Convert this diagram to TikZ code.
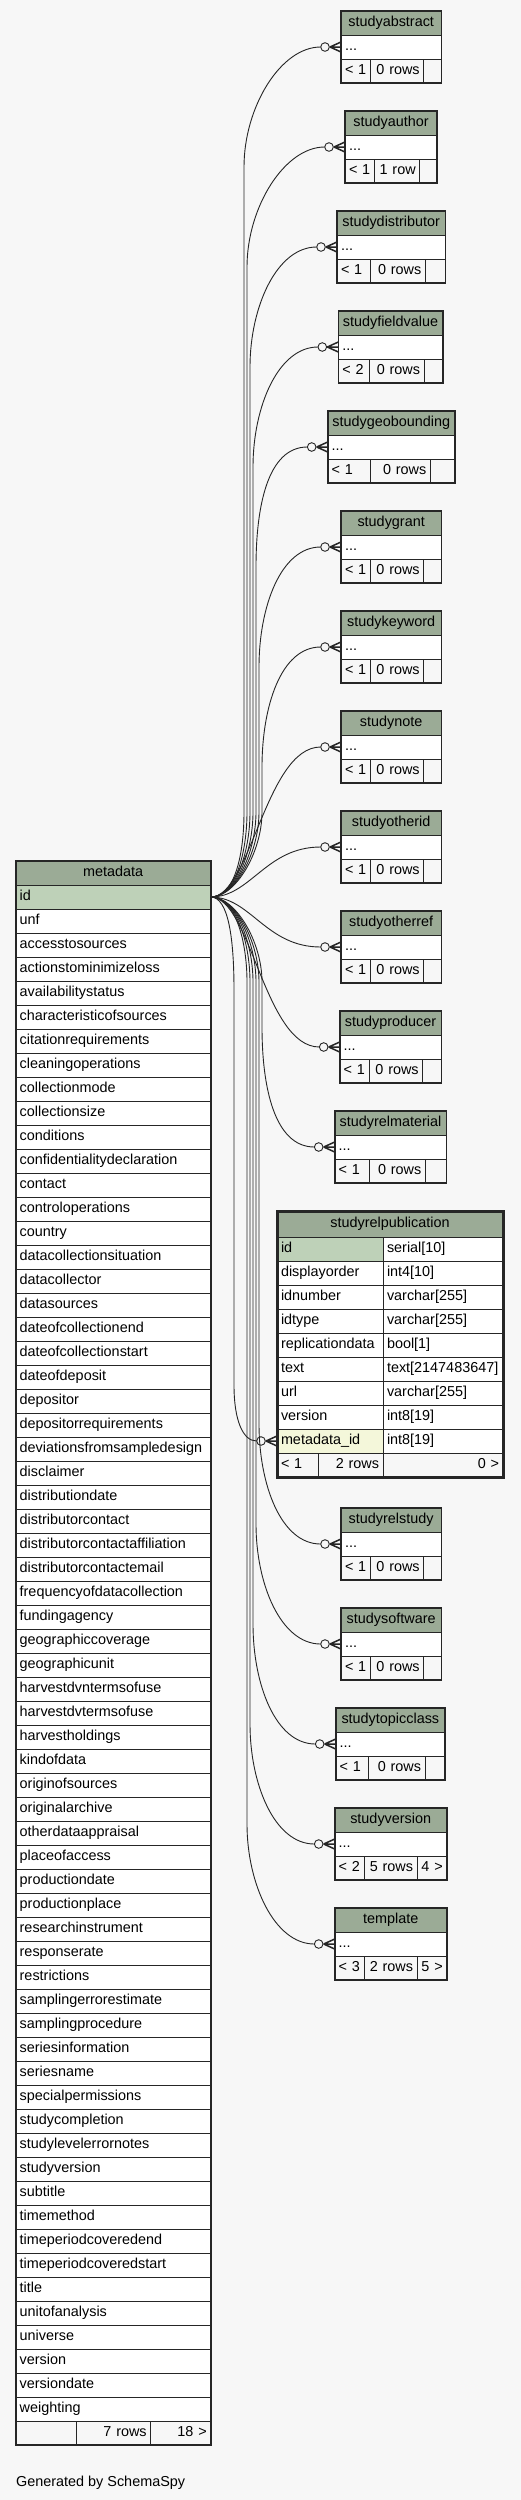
\documentclass[tikz,border=0pt]{standalone}
\usepackage{fontspec}
\setmainfont{Liberation Sans}
\hyphenpenalty=10000
\exhyphenpenalty=10000
\definecolor{pagebg}{HTML}{F7F7F7}
\definecolor{hdr}{HTML}{9BAB96}
\definecolor{keyc}{HTML}{BED1B8}
\definecolor{fkc}{HTML}{F4F7DA}
\definecolor{linec}{HTML}{262626}
\tikzset{
  cellst/.style={draw=linec, line width=1pt, inner xsep=4pt, inner ysep=0pt, outer sep=0pt,
    text height=10.5pt, text depth=3pt, font=\fontsize{14.4}{17}\selectfont, text=black},
  tabframe/.style={draw=linec, line width=1.6pt},
  focusframe/.style={draw=linec, line width=3pt},
  edge/.style={draw=linec, line width=0.9pt},
  crowst/.style={draw=linec, line width=1.5pt},
}
\newcommand{\mycell}[8]{%
  \pgfmathsetmacro\cw{#4-#2}%
  \pgfmathsetmacro\chh{#5-#3}%
  \pgfmathsetmacro\ctw{#4-#2-8}%
  \node[cellst,fill=#6,align=#7,minimum width=\cw pt,minimum height=\chh pt,text width=\ctw pt,anchor=north west] (#1) at (#2,#3) {#8};}
\def\fthr{}
\newcommand{\smalltab}[9]{%
  \pgfmathsetmacro\ya{#5+24}%
  \pgfmathsetmacro\yb{#5+48}%
  \pgfmathsetmacro\yc{#5+72}%
  \mycell{#1-h}{#3}{#5}{#4}{\ya}{hdr}{center}{#2}%
  \mycell{#1}{#3}{\ya}{#4}{\yb}{white}{left}{...}%
  \mycell{#1-fa}{#3}{\yb}{#6}{\yc}{pagebg}{left}{#8}%
  \mycell{#1-fb}{#6}{\yb}{#7}{\yc}{pagebg}{right}{#9}%
  \mycell{#1-fc}{#7}{\yb}{#4}{\yc}{pagebg}{right}{\fthr}%
  \draw[tabframe] (#3,#5) rectangle (#4,\yc);}
\newcommand{\crowo}[1]{%
  \draw[edge,fill=pagebg] ([xshift=-16pt]#1.west) circle[radius=4.3pt];
  \draw[crowst] ([xshift=-11pt]#1.west) -- ([yshift=5pt]#1.west)
    ([xshift=-11pt]#1.west) -- (#1.west)
    ([xshift=-11pt]#1.west) -- ([yshift=-5pt]#1.west);}
\newcommand{\edgeup}[3]{%
  \pgfmathsetmacro\eb{#3+120}%
  \draw[edge] (md-id.east) .. controls +(25,0) and +(0,40) .. (#2,812) -- (#2,\eb)
    .. controls +(0,-60) and +(-40,0) .. ([xshift=-20.3pt]#1.west);
  \crowo{#1}}
\newcommand{\edgedown}[3]{%
  \pgfmathsetmacro\eb{#3-120}%
  \draw[edge] (md-id.east) .. controls +(25,0) and +(0,-40) .. (#2,982) -- (#2,\eb)
    .. controls +(0,60) and +(-40,0) .. ([xshift=-20.3pt]#1.west);
  \crowo{#1}}
\newcommand{\edgenear}[1]{%
  \draw[edge] (md-id.east) .. controls +(40,0) and +(-55,0) .. ([xshift=-20.3pt]#1.west);
  \crowo{#1}}
\begin{document}
\begin{tikzpicture}[x=1pt,y=-1pt]
\fill[pagebg] (0,0) rectangle (521,2500);
\useasboundingbox (0,0) rectangle (521,2500);

% ---------- metadata ----------
\mycell{md-h}{15.7}{861}{210.7}{885}{hdr}{center}{metadata}
\mycell{md-id}{15.7}{885}{210.7}{909}{keyc}{left}{id}
\foreach \nm [count=\i from 0] in {unf,accesstosources,actionstominimizeloss,availabilitystatus,
  characteristicofsources,citationrequirements,cleaningoperations,collectionmode,collectionsize,
  conditions,confidentialitydeclaration,contact,controloperations,country,datacollectionsituation,
  datacollector,datasources,dateofcollectionend,dateofcollectionstart,dateofdeposit,depositor,
  depositorrequirements,deviationsfromsampledesign,disclaimer,distributiondate,distributorcontact,
  distributorcontactaffiliation,distributorcontactemail,frequencyofdatacollection,fundingagency,
  geographiccoverage,geographicunit,harvestdvntermsofuse,harvestdvtermsofuse,harvestholdings,
  kindofdata,originofsources,originalarchive,otherdataappraisal,placeofaccess,productiondate,
  productionplace,researchinstrument,responserate,restrictions,samplingerrorestimate,
  samplingprocedure,seriesinformation,seriesname,specialpermissions,studycompletion,
  studylevelerrornotes,studyversion,subtitle,timemethod,timeperiodcoveredend,
  timeperiodcoveredstart,title,unitofanalysis,universe,version,versiondate,weighting}{%
  \pgfmathsetmacro\ra{909+24*\i}%
  \pgfmathsetmacro\rb{933+24*\i}%
  \mycell{md-\i}{15.7}{\ra}{210.7}{\rb}{white}{left}{\nm}%
}
\mycell{md-fa}{15.7}{2421}{76}{2445}{pagebg}{left}{}
\mycell{md-fb}{76}{2421}{150.7}{2445}{pagebg}{right}{7 rows}
\mycell{md-fc}{150.7}{2421}{210.7}{2445}{pagebg}{right}{18 >}
\draw[tabframe] (15.7,861) rectangle (210.7,2445);

% ---------- small tables ----------
\smalltab{sabs}{studyabstract}{341}{441.3}{11}{370.3}{423.7}{< 1}{0 rows}
\smalltab{saut}{studyauthor}{345}{437}{111}{374.7}{419.7}{< 1}{1 row}
\smalltab{sdis}{studydistributor}{337}{445.3}{211}{370.3}{425.3}{< 1}{0 rows}
\smalltab{sfie}{studyfieldvalue}{338.3}{442.7}{311}{369}{424}{< 2}{0 rows}
\smalltab{sgeo}{studygeobounding}{327.7}{454.7}{411}{370.3}{430.3}{< 1}{0 rows}
\smalltab{sgra}{studygrant}{341}{441.3}{511}{370.7}{423.7}{< 1}{0 rows}
\smalltab{skey}{studykeyword}{341}{441.3}{611}{370.7}{423.7}{< 1}{0 rows}
\smalltab{snot}{studynote}{341}{441.3}{711}{370.7}{423.7}{< 1}{0 rows}
\smalltab{soid}{studyotherid}{341}{441.3}{811}{370.7}{423.7}{< 1}{0 rows}
\smalltab{soref}{studyotherref}{341}{441.3}{911}{370.7}{423.7}{< 1}{0 rows}
\smalltab{spro}{studyproducer}{339.7}{441.3}{1011}{369}{422.7}{< 1}{0 rows}
\smalltab{srma}{studyrelmaterial}{334.7}{446.3}{1111}{369}{425.3}{< 1}{0 rows}
\smalltab{srst}{studyrelstudy}{341}{441.3}{1508}{370.7}{423.7}{< 1}{0 rows}
\smalltab{ssof}{studysoftware}{341}{441.3}{1608}{370.7}{423.7}{< 1}{0 rows}
\smalltab{stop}{studytopicclass}{335.7}{445}{1708}{368.7}{425}{< 1}{0 rows}
\def\fthr{4 >}
\smalltab{sver}{studyversion}{334.7}{446.7}{1808}{364}{417}{< 2}{5 rows}
\def\fthr{5 >}
\smalltab{stem}{template}{334.7}{446.7}{1908}{364}{417}{< 3}{2 rows}
\def\fthr{}

% ---------- studyrelpublication ----------
\mycell{rp-h}{277}{1211}{503}{1237}{hdr}{center}{studyrelpublication}
\foreach \nm/\ty/\fc [count=\i from 0] in {id/serial[10]/keyc, displayorder/int4[10]/white,
  idnumber/varchar[255]/white, idtype/varchar[255]/white, replicationdata/bool[1]/white,
  text/text[2147483647]/white, url/varchar[255]/white, version/int8[19]/white,
  metadata\_id/int8[19]/fkc}{%
  \pgfmathsetmacro\ra{1237+24*\i}%
  \pgfmathsetmacro\rb{1261+24*\i}%
  \mycell{rpl-\i}{277}{\ra}{383}{\rb}{\fc}{left}{\nm}%
  \mycell{rpr-\i}{383}{\ra}{503}{\rb}{white}{left}{\ty}%
}
\mycell{rp-fa}{277}{1453}{318.7}{1477}{pagebg}{left}{< 1}
\mycell{rp-fb}{318.7}{1453}{383}{1477}{pagebg}{right}{2 rows}
\mycell{rp-fc}{383}{1453}{503}{1477}{pagebg}{right}{0 >}
\draw[focusframe] (277,1211) rectangle (503,1477);

% ---------- connectors ----------
\edgeup{sabs}{244}{47}
\edgeup{saut}{247}{147}
\edgeup{sdis}{250}{247}
\edgeup{sfie}{253}{347}
\edgeup{sgeo}{256}{447}
\edgeup{sgra}{259}{547}
\edgeup{skey}{262}{647}
\edgenear{snot}
\edgenear{soid}
\edgenear{soref}
\edgenear{spro}
\edgedown{srma}{262}{1147}
\draw[edge] (md-id.east) .. controls +(18,0) and +(0,-50) .. (234,990) -- (234,1385)
  .. controls +(0,35) and +(-14,0) .. ([xshift=-20.3pt]rpl-8.west);
\crowo{rpl-8}
\edgedown{srst}{259}{1544}
\edgedown{ssof}{256}{1644}
\edgedown{stop}{253}{1744}
\edgedown{sver}{250}{1844}
\edgedown{stem}{247}{1944}

\node[font=\fontsize{14.4}{17}\selectfont, anchor=base west, inner sep=0pt] (gen) at (16,2486) {Generated by SchemaSpy};
\end{tikzpicture}
\end{document}
